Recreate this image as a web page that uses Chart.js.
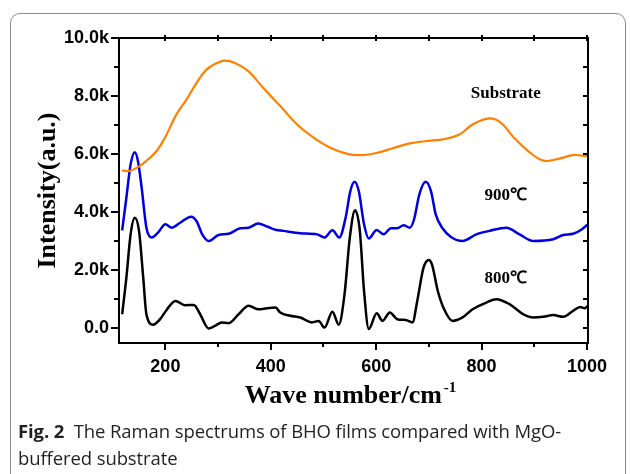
<!DOCTYPE html>
<html>
<head>
<meta charset="utf-8">
<script src="https://cdn.jsdelivr.net/npm/chart.js@4/dist/chart.umd.min.js"></script>
<style>
  html, body { margin: 0; padding: 0; background: #fff; width: 630px; height: 474px; overflow: hidden; }
  #card { position: absolute; left: 10px; top: 13px; width: 616px; height: 500px;
          border: 1px solid #8c8c8c; border-radius: 10px; box-sizing: border-box; }
  #myChart { position: absolute; left: 0; top: 0; }
  #caption { position: absolute; left: 18px; top: 417px; font-family: "Open Sans", sans-serif;
             font-size: 18.5px; line-height: 27px; color: #231f20; letter-spacing: -0.1px; }
  #caption b { font-weight: 700; }
</style>
</head>
<body>
<div id="card"></div>
<canvas id="myChart" width="630" height="420"></canvas>
<div id="caption"><b>Fig. 2</b>&nbsp; The Raman spectrums of BHO films compared with MgO-<br>buffered substrate</div>
<script>
// wave numbers (cm-1) and intensities
const subX = [118, 132, 151, 167, 183, 199, 221, 240, 259, 278, 298, 313, 332, 358, 383, 409, 424, 450, 482, 513, 545, 574, 602, 634, 666, 704, 726, 758, 783, 815, 837, 859, 885, 917, 948, 974, 1002];
const subY = [5440, 5420, 5590, 5820, 6100, 6560, 7370, 7880, 8450, 8910, 9140, 9220, 9140, 8850, 8340, 7830, 7540, 7020, 6560, 6220, 6010, 5970, 6050, 6220, 6380, 6470, 6510, 6680, 7020, 7230, 7080, 6620, 6160, 5780, 5850, 5970, 5930];

const s900X = [118, 126, 134, 142, 148, 155, 164, 174, 186, 200, 212, 228, 249, 259, 270, 282, 301, 320, 342, 358, 376, 393, 409, 424, 456, 488, 502, 517, 530, 542, 551, 559, 567, 577, 586, 601, 614, 628, 640, 652, 664, 672, 682, 694, 704, 713, 726, 742, 764, 790, 815, 847, 872, 898, 936, 955, 974, 990, 1002];
const s900Y = [3380, 4500, 5650, 6070, 5760, 4850, 3470, 3130, 3300, 3590, 3470, 3640, 3850, 3700, 3240, 3010, 3220, 3260, 3450, 3470, 3610, 3510, 3400, 3360, 3280, 3240, 3130, 3380, 3130, 3810, 4730, 5050, 4730, 3590, 3100, 3390, 3240, 3450, 3450, 3550, 3470, 3760, 4620, 5050, 4730, 3930, 3450, 3150, 3010, 3240, 3360, 3470, 3240, 3010, 3070, 3220, 3260, 3410, 3590];

const s800X = [118, 126, 134, 142, 150, 158, 164, 177, 190, 202, 219, 237, 254, 266, 282, 294, 307, 320, 339, 358, 377, 393, 409, 418, 437, 456, 478, 491, 502, 517, 529, 540, 550, 560, 569, 577, 586, 601, 612, 626, 640, 656, 669, 678, 690, 700, 706, 717, 729, 745, 764, 783, 809, 828, 853, 879, 898, 917, 936, 955, 974, 987, 996, 1002];
const s800Y = [490, 1750, 3240, 3810, 3360, 1750, 490, 130, 320, 630, 950, 800, 810, 490, 0, 90, 210, 180, 490, 780, 660, 700, 720, 550, 440, 380, 210, 260, 30, 580, 130, 1180, 3130, 4070, 3360, 1290, -20, 520, 260, 550, 320, 290, 210, 950, 2100, 2360, 2200, 1290, 660, 260, 380, 660, 890, 1010, 840, 490, 380, 400, 460, 400, 610, 740, 700, 780];

const xTicks = [200, 400, 600, 800, 1000];
const yTicks = [0, 2000, 4000, 6000, 8000, 10000];

const labels = ['Substrate', '900℃', '800℃'];
const labelX = [846, 846, 846];
const labelY = [8090, 4580, 1720];

function pts(xs, ys) {
  return xs.map((v, i) => ({x: v, y: ys[i]}));
}

// frame, mirrored ticks, minor ticks, x title with superscript, curve labels
const decor = {
  id: 'decor',
  afterDraw(chart) {
    const ctx = chart.ctx;
    const a = chart.chartArea;
    const x = chart.scales.x, y = chart.scales.y;
    ctx.save();
    ctx.strokeStyle = '#000';
    ctx.lineWidth = 2;
    ctx.strokeRect(a.left, a.top, a.right - a.left, a.bottom - a.top);
    ctx.beginPath();
    for (let v = 200; v <= 1000; v += 100) {
      const px = Math.round(x.getPixelForValue(v));
      const len = v % 200 === 0 ? 7 : 4;
      ctx.moveTo(px, a.bottom); ctx.lineTo(px, a.bottom + len);
      ctx.moveTo(px, a.top - 3); ctx.lineTo(px, a.top + 3);
    }
    for (let v = 0; v <= 10000; v += 1000) {
      const py = Math.round(y.getPixelForValue(v));
      const len = v % 2000 === 0 ? 8 : 5;
      ctx.moveTo(a.left - len, py); ctx.lineTo(a.left, py);
      ctx.moveTo(a.right, py); ctx.lineTo(a.right - 5, py);
    }
    ctx.stroke();

    ctx.fillStyle = '#000';
    ctx.textBaseline = 'alphabetic';
    ctx.font = 'bold 26px "Liberation Serif", serif';
    const main = 'Wave number/cm';
    const mw = ctx.measureText(main).width;
    ctx.font = 'bold 15px "Liberation Serif", serif';
    const sup = '-1';
    const sw = ctx.measureText(sup).width;
    const cx = (a.left + a.right) / 2 - 3;
    const x0 = cx - (mw + sw + 2) / 2;
    ctx.font = 'bold 26px "Liberation Serif", serif';
    ctx.textAlign = 'left';
    ctx.fillText(main, x0, 403);
    ctx.font = 'bold 15px "Liberation Serif", serif';
    ctx.fillText(sup, x0 + mw + 2, 392);

    ctx.font = 'bold 17px "Liberation Serif", serif';
    ctx.textAlign = 'center';
    ctx.textBaseline = 'middle';
    labels.forEach((t, i) => {
      ctx.fillText(t, x.getPixelForValue(labelX[i]), y.getPixelForValue(labelY[i]));
    });
    ctx.restore();
  }
};

document.addEventListener("DOMContentLoaded", function(){
  new Chart(document.getElementById('myChart').getContext('2d'), {
    type: 'line',
    data: {
      datasets: [{
        label: 'Substrate',
        data: pts(subX, subY),
        borderColor: 'rgb(255, 128, 0)',
        borderWidth: 2.2,
        cubicInterpolationMode: 'default',
        tension: 0.4
      }, {
        label: '900℃',
        data: pts(s900X, s900Y),
        borderColor: 'rgb(0, 0, 220)',
        borderWidth: 2.5
      }, {
        label: '800℃',
        data: pts(s800X, s800Y),
        borderColor: '#000',
        borderWidth: 2.5
      }]
    },
    options: {
      responsive: false,
      animation: false,
      devicePixelRatio: 1,
      cubicInterpolationMode: 'monotone',
      pointRadius: 0,
      layout: { padding: { left: 33, top: 38, right: 42, bottom: 0 } },
      plugins: { legend: { display: false }, tooltip: { enabled: false } },
      scales: {
        x: {
          type: 'linear',
          min: 112,
          max: 1002,
          afterBuildTicks: s => { s.ticks = xTicks.map(v => ({value: v})); },
          afterFit: s => { s.height = 77; },
          grid: { display: false, drawTicks: false },
          border: { display: false },
          ticks: {
            padding: 13,
            color: '#000',
            font: { family: '"Liberation Sans", Arial, sans-serif', size: 18, weight: 'bold' },
            callback: v => String(v)
          }
        },
        y: {
          min: -500,
          max: 10000,
          afterBuildTicks: s => { s.ticks = yTicks.map(v => ({value: v})); },
          afterFit: s => { s.width = 86; },
          grid: { display: false, drawTicks: false },
          border: { display: false },
          ticks: {
            padding: 10,
            color: '#000',
            font: { family: '"Liberation Sans", Arial, sans-serif', size: 18, weight: 'bold' },
            callback: v => v === 0 ? '0.0' : (v / 1000).toFixed(1) + 'k'
          },
          title: {
            display: true,
            text: 'Intensity(a.u.)',
            color: '#000',
            padding: 0,
            font: { family: '"Liberation Serif", serif', size: 26, weight: 'bold' }
          }
        }
      }
    },
    plugins: [decor]
  });
});
</script>
</body>
</html>
